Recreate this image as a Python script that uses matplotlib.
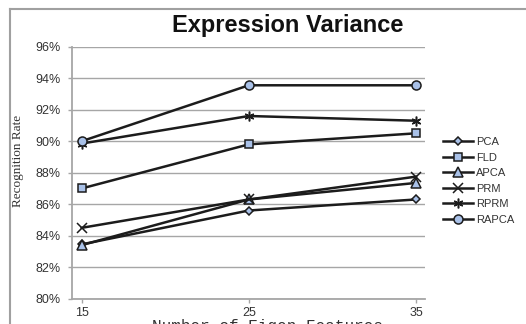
import matplotlib
matplotlib.use("Agg")
from matplotlib import pyplot as plt
from matplotlib.lines import Line2D
from matplotlib.ticker import FuncFormatter

eigen_features = [15, 25, 35]
pca = [83.45, 85.6, 86.3]
fld = [87.0, 89.8, 90.5]
apca = [83.4, 86.3, 87.35]
prm = [84.5, 86.3, 87.75]
rprm = [89.85, 91.6, 91.3]
rapca = [90.0, 93.55, 93.55]

labels = ["PCA", "FLD", "APCA", "PRM", "RPRM", "RAPCA"]
series = [pca, fld, apca, prm, rprm, rapca]
markers = ["D", "s", "^", "x", (6, 2, 0), "o"]
msizes = [4.5, 6, 6.5, 7, 7, 6.5]

line_col = "#1c1c1c"
fill_col = "#a9c1e8"
grid_col = "#a6a6a6"
text_col = "#333333"

plt.rcParams["font.family"] = ["Liberation Sans", "DejaVu Sans"]

fig = plt.figure(figsize=(5.26, 3.24), dpi=100)
ax = fig.add_axes([72 / 526, 1 - 298.7 / 324, (425 - 72) / 526, (298.7 - 46.7) / 324])

for vals, lab, mk, ms in zip(series, labels, markers, msizes):
    ax.plot(eigen_features, vals, color=line_col, lw=1.8, marker=mk, markersize=ms,
            markerfacecolor=fill_col, markeredgecolor=line_col, markeredgewidth=1.1,
            label=lab, clip_on=False, zorder=3)

ax.set_xlim(14.42, 35.54)
ax.set_ylim(80, 96)
ax.set_yticks(range(80, 97, 2))
ax.yaxis.set_major_formatter(FuncFormatter(lambda v, p: f"{v:.0f}%"))
ax.set_xticks(eigen_features)
ax.grid(axis="y", color=grid_col, lw=1.0)
ax.set_axisbelow(True)

for s in ["top", "right"]:
    ax.spines[s].set_visible(False)
for s in ["left", "bottom"]:
    ax.spines[s].set_color(grid_col)
    ax.spines[s].set_linewidth(1.3)

ax.tick_params(axis="y", length=3, width=1, color=grid_col, pad=5, labelsize=9, labelcolor=text_col)
ax.tick_params(axis="x", length=3, width=1, color=grid_col, pad=3, labelsize=9, labelcolor=text_col)

ax.legend(loc="upper left", bbox_to_anchor=(443 / 526, 1 - 137 / 324), bbox_transform=fig.transFigure,
          frameon=False, fontsize=8, handlelength=2.7, handletextpad=0.3, labelspacing=0.5,
          borderaxespad=0, borderpad=0, labelcolor=text_col)

fig.text(288 / 526, 1 - 25.7 / 324, "Expression Variance", ha="center", va="center",
         fontsize=17, fontweight="bold", color="#111111")
fig.text(18 / 526, 1 - 161 / 324, "Recognition Rate", rotation=90, ha="center", va="center",
         fontsize=9.5, family=["Liberation Serif", "DejaVu Serif"], color=text_col)
fig.text(268 / 526, 1 - 319 / 324, "Number of Eigen Features", ha="center", va="top",
         fontsize=11.5, family=["Liberation Mono", "DejaVu Sans Mono"], color=text_col)

# outer chart frame
fig.add_artist(Line2D([10 / 526, 10 / 526], [0, 1 - 9 / 324], transform=fig.transFigure,
                      color="#a0a0a0", lw=1.5))
fig.add_artist(Line2D([10 / 526, 1], [1 - 9 / 324, 1 - 9 / 324], transform=fig.transFigure,
                      color="#a0a0a0", lw=1.5))

fig.savefig("out.png", dpi=100, facecolor="white")
